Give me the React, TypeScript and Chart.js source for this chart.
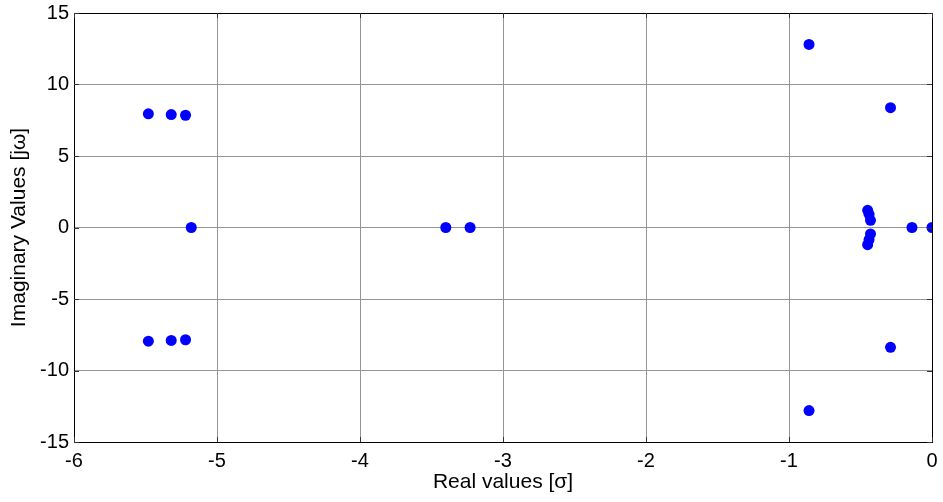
import React, { useEffect, useRef } from "react";
import { Chart, registerables } from "chart.js";

Chart.register(...registerables);

const realValues = [
  -5.48, -5.48, -5.32, -5.32, -5.22, -5.22, -5.18, -3.4, -3.23,
  -0.86, -0.86, -0.29, -0.29, -0.45, -0.45, -0.44, -0.44, -0.43, -0.43, -0.14, 0,
];
const imagValues = [
  7.95, -7.95, 7.9, -7.9, 7.85, -7.85, 0, 0, 0,
  12.8, -12.8, 8.38, -8.38, 1.2, -1.2, 0.92, -0.85, 0.5, -0.45, 0, 0,
];
const xTicks = [-6, -5, -4, -3, -2, -1, 0];
const yTicks = [-15, -10, -5, 0, 5, 10, 15];

const FONT = "'Liberation Sans', Arial, Helvetica, sans-serif";

const framePlugin = {
  id: "frame",
  afterDraw(chart: any) {
    const { ctx, chartArea: a, scales } = chart;
    ctx.save();
    ctx.strokeStyle = "#000";
    ctx.lineWidth = 1;
    ctx.strokeRect(Math.round(a.left) + 0.5, Math.round(a.top) + 0.5, Math.round(a.right - a.left), Math.round(a.bottom - a.top));
    const len = 5;
    ctx.strokeStyle = "#333";
    xTicks.forEach((v) => {
      const x = Math.round(scales.x.getPixelForValue(v)) + 0.5;
      ctx.beginPath();
      ctx.moveTo(x, a.bottom);
      ctx.lineTo(x, a.bottom - len);
      ctx.moveTo(x, a.top);
      ctx.lineTo(x, a.top + len);
      ctx.stroke();
    });
    yTicks.forEach((v) => {
      const y = Math.round(scales.y.getPixelForValue(v)) + 0.5;
      ctx.beginPath();
      ctx.moveTo(a.left, y);
      ctx.lineTo(a.left + len, y);
      ctx.moveTo(a.right, y);
      ctx.lineTo(a.right - len, y);
      ctx.stroke();
    });
    ctx.restore();
  },
};

export default function App() {
  const ref = useRef<HTMLCanvasElement>(null);
  useEffect(() => {
    document.body.style.margin = "0";
    const points = realValues.map((x, i) => ({ x, y: imagValues[i] }));
    const chart = new Chart(ref.current!, {
      type: "scatter",
      data: {
        datasets: [
          {
            data: points,
            backgroundColor: "#0000ff",
            borderWidth: 0,
            pointRadius: 5.5,
            pointHoverRadius: 5.5,
          },
        ],
      },
      options: {
        responsive: false,
        animation: false,
        events: [],
        layout: { padding: { top: 13, right: 11, left: 0, bottom: 0 } },
        plugins: { legend: { display: false }, tooltip: { enabled: false } },
        scales: {
          x: {
            type: "linear",
            min: -6,
            max: 0,
            afterBuildTicks: (s: any) => {
              s.ticks = xTicks.map((v) => ({ value: v }));
            },
            afterFit: (s: any) => {
              s.height = 60;
              s.paddingLeft = 0;
              s.paddingRight = 0;
            },
            grid: { color: "#959595", lineWidth: 1, drawTicks: false },
            border: { display: false },
            ticks: {
              color: "#000",
              padding: 7,
              font: { family: FONT, size: 20 },
              maxRotation: 0,
            },
            title: {
              display: true,
              text: "Real values [σ]",
              color: "#000",
              font: { family: FONT, size: 21 },
              padding: { top: 0, bottom: 7 },
            },
          },
          y: {
            type: "linear",
            min: -15,
            max: 15,
            afterBuildTicks: (s: any) => {
              s.ticks = yTicks.map((v) => ({ value: v }));
            },
            afterFit: (s: any) => {
              s.width = 74;
              s.paddingTop = 0;
              s.paddingBottom = 0;
            },
            grid: { color: "#959595", lineWidth: 1, drawTicks: false },
            border: { display: false },
            ticks: {
              color: "#000",
              padding: 5,
              font: { family: FONT, size: 20 },
            },
            title: {
              display: true,
              text: "Imaginary Values [jω]",
              color: "#000",
              font: { family: FONT, size: 21 },
              padding: { top: 7, bottom: 0 },
            },
          },
        },
      },
      plugins: [framePlugin],
    });
    return () => chart.destroy();
  }, []);
  return (
    <div style={{ position: "absolute", left: 0, top: 0, width: 943, height: 502, background: "#fff" }}>
      <canvas ref={ref} width={943} height={502} />
    </div>
  );
}
